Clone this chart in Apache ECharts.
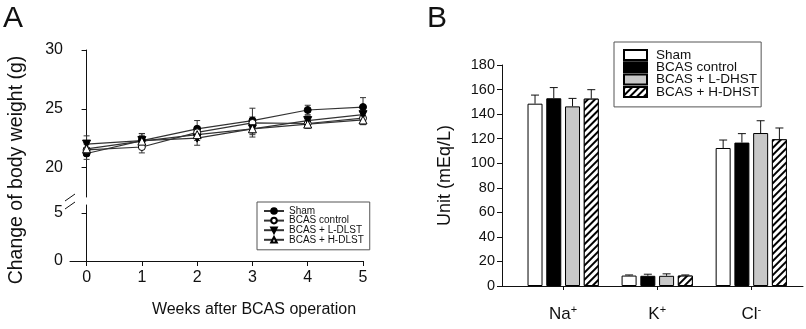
<!DOCTYPE html>
<html>
<head>
<meta charset="utf-8">
<script src="https://cdn.jsdelivr.net/npm/echarts@6/dist/echarts.min.js"></script>
<style>
  html, body { margin: 0; padding: 0; background: #fff; }
  #chart { width: 806px; height: 329px; }
</style>
</head>
<body>
<div id="chart"></div>
<script>
// ---- panel A: body weight ----
var weeks = [0, 1, 2, 3, 4, 5];
var weekTicks = [0, 1, 2, 3, 4, 5];
var upperTicks = [20, 25, 30];
var lowerTicks = [0, 5];
var groupsA = ["Sham", "BCAS control", "BCAS + L-DLST", "BCAS + H-DLST"];
var shamW = [21.2, 22.3, 23.3, 24.0, 24.9, 25.15];
var shamWErr = [0.5, 0.6, 0.7, 1.05, 0.4, 0.8];
var ctrlW = [21.5, 21.75, 23.0, 23.8, 23.75, 24.2];
var ctrlWErr = [0.5, 0.5, 0.5, 0.5, 0.4, 0.4];
var lowW = [22.0, 22.3, 22.5, 23.3, 24.0, 24.5];
var lowWErr = [0.7, 0.6, 0.6, 0.7, 0.4, 0.3];
var highW = [21.6, 22.25, 22.8, 23.3, 23.7, 24.05];
var highWErr = [0.5, 0.5, 0.5, 0.5, 0.3, 0.4];

// ---- panel B: electrolytes ----
var ions = ["Na", "K", "Cl"];
var ionSup = ["+", "+", "-"];
var ionPos = [1, 2, 3];
var ionTicks = [1, 2, 3];
var groupsB = ["Sham", "BCAS control", "BCAS + L-DHST", "BCAS + H-DHST"];
var shamB = [148.5, 8.5, 112.4];
var shamBErr = [7.0, 0.5, 6.5];
var ctrlB = [152.9, 8.3, 116.8];
var ctrlBErr = [8.7, 1.3, 7.3];
var lowB = [146.3, 8.3, 124.6];
var lowBErr = [6.5, 1.6, 10.0];
var highB = [152.6, 8.5, 119.5];
var highBErr = [7.3, 0.5, 9.2];

var FONT = "Liberation Sans";
var BAR_W = 15, BAR_GAP = 3.75;
var B_PREFIX = "B:"; // keeps panel B legend apart from panel A (same group names)

var chart = echarts.init(document.getElementById("chart"));

function pairs(xs, ys) {
  return xs.map(function (x, i) { return [x, ys[i]]; });
}

// vertical error bars with caps, both directions
function errRenderBoth(params, api) {
  var x = api.value(0);
  var lo = api.coord([x, api.value(1)]);
  var hi = api.coord([x, api.value(2)]);
  var st = { stroke: "#333", lineWidth: 1 };
  return {
    type: "group",
    children: [
      { type: "line", shape: { x1: lo[0], y1: lo[1], x2: hi[0], y2: hi[1] }, style: st },
      { type: "line", shape: { x1: lo[0] - 3, y1: lo[1], x2: lo[0] + 3, y2: lo[1] }, style: st },
      { type: "line", shape: { x1: hi[0] - 3, y1: hi[1], x2: hi[0] + 3, y2: hi[1] }, style: st }
    ]
  };
}

function errA(mean, err) {
  return {
    type: "custom",
    xAxisIndex: 0,
    yAxisIndex: 0,
    silent: true,
    z: 1,
    renderItem: errRenderBoth,
    data: weeks.map(function (w, i) { return [w, mean[i] - err[i], mean[i] + err[i]]; })
  };
}

// upward error bars for the grouped bars
function errB(k, mean, err) {
  return {
    type: "custom",
    xAxisIndex: 2,
    yAxisIndex: 2,
    silent: true,
    z: 3,
    renderItem: function (params, api) {
      var off = (k - 1.5) * (BAR_W + BAR_GAP);
      var x = api.value(0);
      var lo = api.coord([x, api.value(1)]);
      var hi = api.coord([x, api.value(2)]);
      var st = { stroke: "#111", lineWidth: 1 };
      return {
        type: "group",
        children: [
          { type: "line", shape: { x1: lo[0] + off, y1: lo[1], x2: hi[0] + off, y2: hi[1] }, style: st },
          { type: "line", shape: { x1: hi[0] + off - 4, y1: hi[1], x2: hi[0] + off + 4, y2: hi[1] }, style: st }
        ]
      };
    },
    data: ionPos.map(function (p, i) { return [p, mean[i], mean[i] + err[i]]; })
  };
}

function lineA(name, data, symbol, fill, rotate) {
  return {
    name: name,
    type: "line",
    xAxisIndex: 0,
    yAxisIndex: 0,
    data: pairs(weeks, data),
    symbol: symbol,
    symbolSize: symbol === "circle" ? 7 : 8,
    symbolRotate: rotate || 0,
    showAllSymbol: true,
    z: 2,
    lineStyle: { color: "#333", width: 1.2 },
    itemStyle: { color: fill, borderColor: "#000", borderWidth: 1 }
  };
}

function barB(name, data, style) {
  return {
    name: B_PREFIX + name,
    type: "bar",
    xAxisIndex: 2,
    yAxisIndex: 2,
    data: pairs(ionPos, data),
    barWidth: BAR_W,
    barGap: "25%",
    z: 2,
    itemStyle: style
  };
}

var axisLine = { show: true, lineStyle: { color: "#111", width: 1 } };

var option = {
  animation: false,
  textStyle: { fontFamily: FONT, color: "#111" },
  grid: [
    { left: 70, top: 50, width: 293, height: 147 },
    { left: 70, top: 205, width: 293, height: 56 },
    { left: 502, top: 65, width: 301, height: 221 }
  ],
  xAxis: [
    { gridIndex: 0, type: "value", min: -0.3, max: 5, show: false },
    {
      gridIndex: 1, type: "value", min: -0.3, max: 5,
      axisLine: axisLine,
      axisTick: { show: true, length: 5, customValues: weekTicks, lineStyle: { color: "#111" } },
      axisLabel: { customValues: weekTicks, fontSize: 16, margin: 9, color: "#111" },
      splitLine: { show: false }
    },
    {
      gridIndex: 2, type: "value", min: 0.35, max: 3.55,
      axisLine: axisLine,
      axisTick: { show: true, length: 4, customValues: ionTicks, lineStyle: { color: "#111" } },
      axisLabel: {
        customValues: ionTicks,
        margin: 18,
        formatter: function (v) {
          var i = ionPos.indexOf(v);
          return "{a|" + ions[i] + "}{s|" + ionSup[i] + "}";
        },
        rich: {
          a: { fontSize: 17, fontFamily: FONT, color: "#111" },
          s: { fontSize: 11, fontFamily: FONT, color: "#111", padding: [0, 0, 9, 0] }
        }
      },
      splitLine: { show: false }
    }
  ],
  yAxis: [
    {
      gridIndex: 0, type: "value", min: 17.5, max: 30,
      axisLine: axisLine,
      axisTick: { show: true, length: 5, customValues: upperTicks, lineStyle: { color: "#111" } },
      axisLabel: { customValues: upperTicks, fontSize: 16, margin: 7, color: "#111" },
      splitLine: { show: false }
    },
    {
      gridIndex: 1, type: "value", min: 0, max: 5.83,
      axisLine: axisLine,
      axisTick: { show: true, length: 5, customValues: lowerTicks, lineStyle: { color: "#111" } },
      axisLabel: { customValues: lowerTicks, fontSize: 16, margin: 7, color: "#111" },
      splitLine: { show: false }
    },
    {
      gridIndex: 2, type: "value", min: 0, max: 180, interval: 20,
      name: "Unit (mEq/L)",
      nameLocation: "middle",
      nameGap: 48,
      nameTextStyle: { fontSize: 18, color: "#111" },
      axisLine: axisLine,
      axisTick: { show: true, length: 5, lineStyle: { color: "#111" } },
      axisLabel: { fontSize: 14.5, margin: 7, color: "#111" },
      splitLine: { show: false }
    }
  ],
  legend: [
    {
      data: groupsA,
      orient: "vertical",
      left: 257,
      top: 202,
      padding: [4, 6, 5, 6],
      itemWidth: 20,
      itemHeight: 7,
      itemGap: -0.4,
      borderColor: "#555",
      borderWidth: 1,
      textStyle: { fontSize: 10, color: "#111" }
    },
    {
      data: groupsB.map(function (g) { return B_PREFIX + g; }),
      formatter: function (n) { return n.slice(B_PREFIX.length); },
      icon: "rect",
      orient: "vertical",
      left: 614,
      top: 42,
      padding: [6, 2, 8, 9],
      itemWidth: 23,
      itemHeight: 10,
      itemGap: -1.7,
      borderColor: "#555",
      borderWidth: 1,
      textStyle: { fontSize: 13.5, color: "#111", padding: [0, 0, 0, 4] }
    }
  ],
  graphic: [
    { type: "text", left: 3, top: 4, style: { text: "A", fontSize: 30, fontFamily: FONT, fill: "#111" } },
    { type: "text", left: 427, top: 4, style: { text: "B", fontSize: 30, fontFamily: FONT, fill: "#111" } },
    {
      type: "text", x: 17, y: 170, rotation: Math.PI / 2,
      style: { text: "Change of body weight (g)", fontSize: 19.5, fontFamily: FONT, fill: "#111", textAlign: "center", textVerticalAlign: "middle" }
    },
    {
      type: "text", x: 254, y: 310,
      style: { text: "Weeks after BCAS operation", fontSize: 16, fontFamily: FONT, fill: "#111", textAlign: "center", textVerticalAlign: "middle" }
    },
    { type: "line", shape: { x1: 65, y1: 201, x2: 75, y2: 194 }, style: { stroke: "#111", lineWidth: 1 } },
    { type: "line", shape: { x1: 65, y1: 209, x2: 75, y2: 202 }, style: { stroke: "#111", lineWidth: 1 } }
  ],
  series: [
    errA(shamW, shamWErr),
    errA(ctrlW, ctrlWErr),
    errA(lowW, lowWErr),
    errA(highW, highWErr),
    lineA(groupsA[0], shamW, "circle", "#000"),
    lineA(groupsA[1], ctrlW, "circle", "#fff"),
    lineA(groupsA[2], lowW, "triangle", "#000", 180),
    lineA(groupsA[3], highW, "triangle", "#fff"),

    barB(groupsB[0], shamB, { color: "#fff", borderColor: "#000", borderWidth: 1 }),
    barB(groupsB[1], ctrlB, { color: "#000", borderColor: "#000", borderWidth: 1 }),
    barB(groupsB[2], lowB, { color: "#c8c8c8", borderColor: "#000", borderWidth: 1 }),
    barB(groupsB[3], highB, {
      color: "#fff", borderColor: "#000", borderWidth: 1,
      decal: {
        symbol: "rect", symbolSize: 1,
        dashArrayX: [1, 0], dashArrayY: [1.2, 2.6],
        rotation: -Math.PI / 4,
        color: "#000", backgroundColor: "#fff"
      }
    }),
    errB(0, shamB, shamBErr),
    errB(1, ctrlB, ctrlBErr),
    errB(2, lowB, lowBErr),
    errB(3, highB, highBErr)
  ]
};

chart.setOption(option);
window.addEventListener("resize", function () { chart.resize(); });
</script>
</body>
</html>
